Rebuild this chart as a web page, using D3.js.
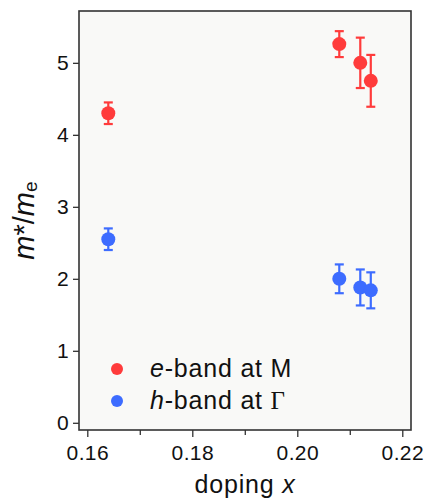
<!DOCTYPE html>
<html>
<head>
<meta charset="utf-8">
<script src="https://cdn.jsdelivr.net/npm/d3@7"></script>
<style>
  body { margin: 0; background: #fff; }
  text { font-family: "Liberation Sans", Arial, Helvetica, sans-serif; fill: #111; }
</style>
</head>
<body>
<div id="root"></div>
<script>
var width = 425;
var height = 501;

// data
var doping = [0.164, 0.208, 0.212, 0.214];
var eMass = [4.30, 5.26, 5.00, 4.75];
var eErr = [0.15, 0.18, 0.35, 0.36];
var hMass = [2.55, 2.00, 1.88, 1.84];
var hErr = [0.15, 0.20, 0.25, 0.25];
var xTicks = [0.16, 0.18, 0.20, 0.22];
var xMinor = [0.17, 0.19, 0.21];
var yTicks = [0, 1, 2, 3, 4, 5];

var red = '#ff3b3b';
var blue = '#3d6cff';

var padding = { left: 79, right: 14, top: 11, bottom: 71 };
var plotW = width - padding.left - padding.right;
var plotH = height - padding.top - padding.bottom;

var svg = d3.select('#root')
    .append('svg')
    .attr('width', width).attr('height', height);

var xScale = d3.scaleLinear()
    .domain([0.15842, 0.22166])
    .range([0, plotW]);
var yScale = d3.scaleLinear()
    .domain([-0.1, 5.72])
    .range([plotH, 0]);

var g = svg.append('g')
    .attr('transform', 'translate(' + padding.left + ',' + padding.top + ')');

g.append('rect')
    .attr('width', plotW).attr('height', plotH)
    .attr('fill', '#f9f9f7');

// axes
var xAxis = d3.axisBottom(xScale).tickValues(xTicks)
    .tickSize(7).tickPadding(8).tickFormat(d3.format('.2f'));
var xAxisMinor = d3.axisBottom(xScale).tickValues(xMinor)
    .tickSize(5).tickFormat('');
var yAxis = d3.axisLeft(yScale).tickValues(yTicks)
    .tickSize(6).tickPadding(4).tickFormat(d3.format('d'));

var gx = g.append('g').attr('transform', 'translate(0,' + plotH + ')').call(xAxis);
var gxm = g.append('g').attr('transform', 'translate(0,' + plotH + ')').call(xAxisMinor);
var gy = g.append('g').call(yAxis);
[gx, gxm, gy].forEach(function (a) {
    a.select('.domain').remove();
    a.selectAll('line').attr('stroke', '#333').attr('stroke-width', 1.3);
    a.selectAll('text').attr('font-size', 21).attr('fill', '#111')
        .attr('letter-spacing', 0.4)
        .attr('font-family', '"Liberation Sans", Arial, sans-serif');
});

g.append('rect')
    .attr('width', plotW).attr('height', plotH)
    .attr('fill', 'none')
    .attr('stroke', '#333').attr('stroke-width', 1.6);

// error bars + points
function drawSeries(vals, errs, color) {
    var s = g.append('g');
    var data = doping.map(function (d, i) { return { x: d, y: vals[i], e: errs[i] }; });
    var bars = s.selectAll('.err').data(data).enter().append('g')
        .attr('stroke', color).attr('stroke-width', 2.2);
    bars.append('line')
        .attr('x1', function (d) { return xScale(d.x); })
        .attr('x2', function (d) { return xScale(d.x); })
        .attr('y1', function (d) { return yScale(d.y - d.e); })
        .attr('y2', function (d) { return yScale(d.y + d.e); });
    bars.append('line')
        .attr('x1', function (d) { return xScale(d.x) - 4.5; })
        .attr('x2', function (d) { return xScale(d.x) + 4.5; })
        .attr('y1', function (d) { return yScale(d.y + d.e); })
        .attr('y2', function (d) { return yScale(d.y + d.e); });
    bars.append('line')
        .attr('x1', function (d) { return xScale(d.x) - 4.5; })
        .attr('x2', function (d) { return xScale(d.x) + 4.5; })
        .attr('y1', function (d) { return yScale(d.y - d.e); })
        .attr('y2', function (d) { return yScale(d.y - d.e); });
    s.selectAll('circle').data(data).enter().append('circle')
        .attr('cx', function (d) { return xScale(d.x); })
        .attr('cy', function (d) { return yScale(d.y); })
        .attr('r', 7)
        .attr('fill', color);
}
drawSeries(eMass, eErr, red);
drawSeries(hMass, hErr, blue);

// legend
var legend = g.append('g').attr('transform', 'translate(38,358)');
legend.append('circle').attr('cx', 0).attr('cy', 0).attr('r', 6).attr('fill', red);
legend.append('circle').attr('cx', 0).attr('cy', 32).attr('r', 6).attr('fill', blue);
var t1 = legend.append('text').attr('x', 33).attr('y', 8)
    .attr('font-size', 25).attr('letter-spacing', 0.8);
t1.append('tspan').attr('font-style', 'italic').text('e');
t1.append('tspan').text('-band at M');
var t2 = legend.append('text').attr('x', 33).attr('y', 40)
    .attr('font-size', 25).attr('letter-spacing', 0.8);
t2.append('tspan').attr('font-style', 'italic').text('h');
t2.append('tspan').text('-band at ');
t2.append('tspan').attr('font-family', '"Liberation Serif", "DejaVu Serif", serif').text('Γ');

// axis titles
var xt = svg.append('text')
    .attr('x', padding.left + plotW / 2).attr('y', 493)
    .attr('text-anchor', 'middle').attr('font-size', 25).attr('letter-spacing', 0.8);
xt.append('tspan').text('doping ');
xt.append('tspan').attr('font-style', 'italic').text('x');

var yt = svg.append('text')
    .attr('transform', 'translate(34,' + (padding.top + plotH / 2) + ') rotate(-90)')
    .attr('text-anchor', 'middle').attr('font-size', 29);
yt.append('tspan').attr('font-style', 'italic').text('m');
yt.append('tspan').text('*/');
yt.append('tspan').attr('font-style', 'italic').text('m');
yt.append('tspan').attr('font-size', 19).attr('dy', 3).text('e');
</script>
</body>
</html>
